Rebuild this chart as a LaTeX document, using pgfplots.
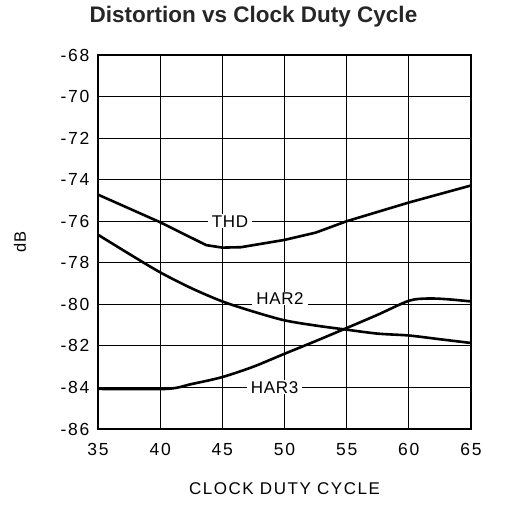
\documentclass[border=0pt]{standalone}
\usepackage{fontspec}
\setmainfont{Liberation Sans}
\newfontfamily\tickfont[LetterSpace=10]{Liberation Sans}
\newfontfamily\labfont[LetterSpace=4]{Liberation Sans}
\newfontfamily\xlabfont[LetterSpace=9]{Liberation Sans}
\usepackage{pgfplots}
\pgfplotsset{compat=1.18}
\begin{document}
\begin{tikzpicture}
\useasboundingbox (-98pt,-75pt) rectangle (408pt,429pt);
\begin{axis}[
  scale only axis,
  width=373pt, height=374pt,
  xmin=35, xmax=65, ymin=-86, ymax=-68,
  xtick={35,40,...,65},
  ytick={-86,-84,...,-68},
  grid=major,
  major grid style={black, line width=0.8pt},
  axis line style={black, line width=1.4pt},
  major tick length=0pt,
  /pgf/number format/assume math mode=true,
  tick label style={font=\tickfont\fontsize{17.5pt}{20pt}\selectfont},
  xticklabel style={anchor=base, yshift=-26pt},
  yticklabel style={anchor=east, xshift=-5pt},
  title={Distortion vs Clock Duty Cycle},
  title style={font=\bfseries\fontsize{22.5pt}{24pt}\selectfont, color=black!85, at={(axis description cs:0.5,1)}, anchor=base, xshift=-31pt, yshift=26pt},
  xlabel={CLOCK DUTY CYCLE},
  xlabel style={font=\xlabfont\fontsize{17pt}{20pt}\selectfont, at={(axis description cs:0.5,0)}, anchor=base, yshift=-65pt},
  ylabel={dB},
  ylabel style={font=\labfont\fontsize{16.5pt}{20pt}\selectfont, at={(axis description cs:0,0.5)}, anchor=center, yshift=78pt},
]
\addplot[black, line width=2.6pt, line join=round] coordinates {
  (35,-74.72) (40,-76.05) (43.7,-77.15) (45,-77.27) (46.5,-77.25)
  (50,-76.9) (52.5,-76.55) (55,-76.0) (60,-75.1) (65,-74.28)
};
\addplot[black, line width=2.6pt, smooth, tension=0.5] coordinates {
  (35,-76.65) (37.5,-77.57) (40,-78.46) (42.5,-79.22) (45,-79.86)
  (47.5,-80.35) (50,-80.77) (52.5,-81.02) (55,-81.22) (57.5,-81.41)
  (60,-81.5) (62.5,-81.68) (65,-81.86)
};
\addplot[black, line width=2.6pt, smooth, tension=0.5] coordinates {
  (35,-84.07) (40.5,-84.07) (42.5,-83.84) (45,-83.5) (47.5,-83.0)
  (50,-82.38) (52.5,-81.77) (55,-81.14) (57.5,-80.5) (60,-79.83)
  (61.5,-79.72) (63,-79.75) (65,-79.86)
};
\node[fill=white, inner xsep=4pt, inner ysep=1pt, font=\labfont\fontsize{17pt}{20pt}\selectfont] at (axis cs:45.62,-76.0) {THD};
\node[fill=white, inner xsep=4pt, inner ysep=1pt, font=\labfont\fontsize{17pt}{20pt}\selectfont] at (axis cs:49.64,-79.72) {HAR2};
\node[fill=white, inner xsep=4pt, inner ysep=1pt, font=\labfont\fontsize{17pt}{20pt}\selectfont] at (axis cs:49.2,-84.0) {HAR3};
\end{axis}
\end{tikzpicture}
\end{document}
